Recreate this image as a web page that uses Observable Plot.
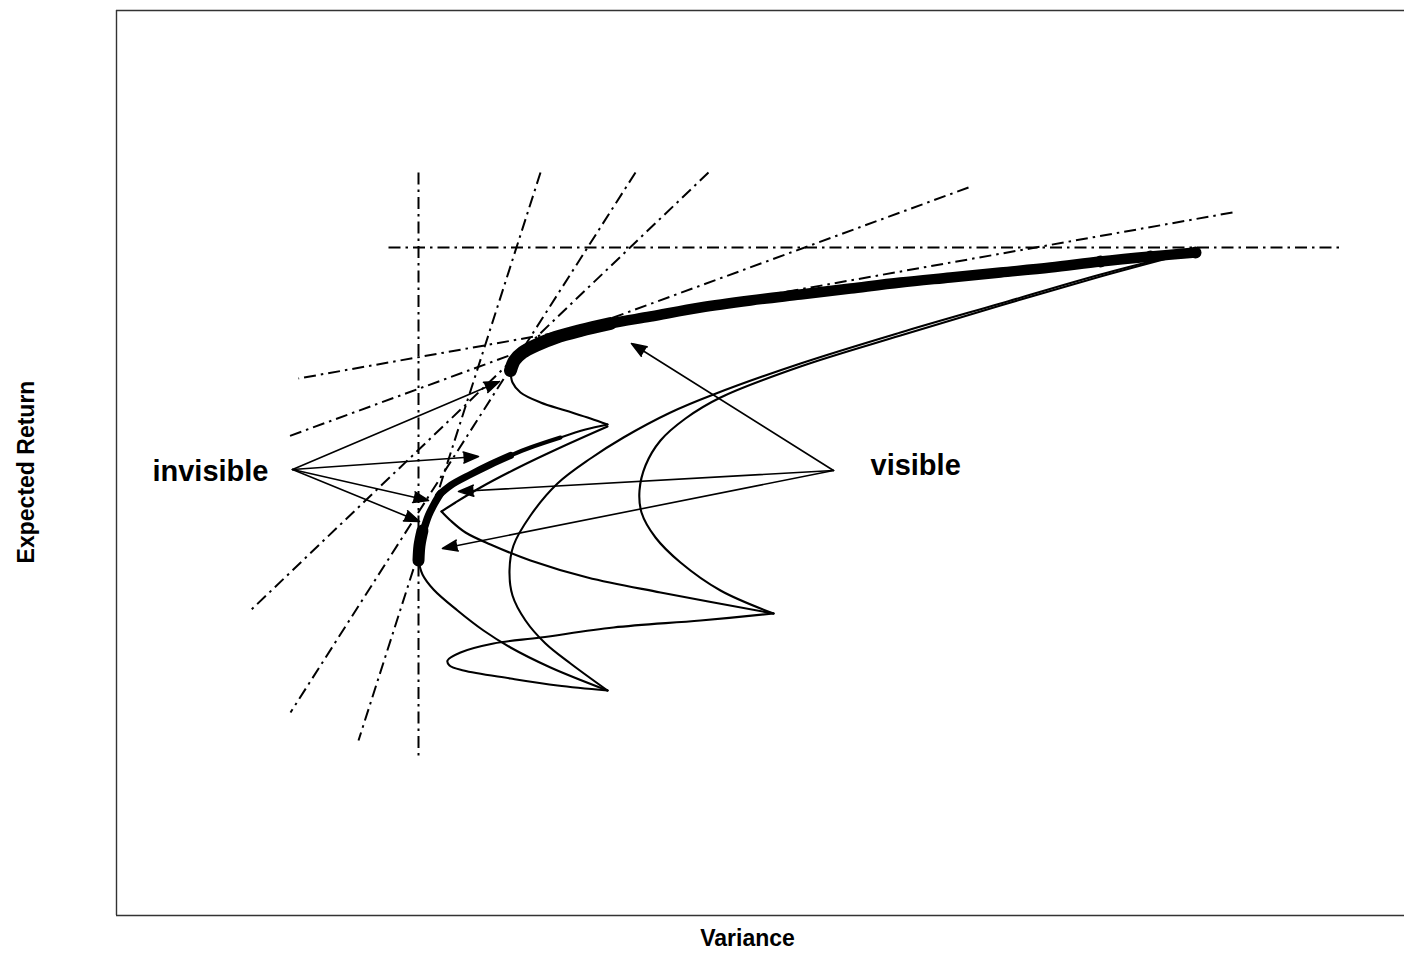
<!DOCTYPE html>
<html>
<head>
<meta charset="utf-8">
<script src="https://cdn.jsdelivr.net/npm/d3@7"></script>
<script src="https://cdn.jsdelivr.net/npm/@observablehq/plot@0.6"></script>
<style>
  html, body { margin: 0; padding: 0; background: #fff; }
  #chart { width: 1404px; height: 956px; }
</style>
</head>
<body>
<div id="chart"></div>
<script>
// ---- Axis extents (abstract variance / expected-return units) ----
const varianceDomain = [0, 128.8];
const returnDomain = [0, 90.5];

// ---- Upper frontier ----
const upperEfficientStart = [[39.4,54.5],[39.8,55.5],[40.6,56.3],[41.9,57.0],[43.9,57.8],[46.4,58.5],[49.4,59.2]];
const upperEfficient = [[39.4,54.5],[39.8,55.5],[40.6,56.3],[41.9,57.0],[43.9,57.8],[46.4,58.5],[49.4,59.2],[53.4,59.9],[58.4,60.8],[63.4,61.5],[68.4,62.1],[73.4,62.7],[78.4,63.3],[83.4,63.8],[88.4,64.3],[93.4,64.8],[98.4,65.4],[103.4,65.9],[107.9,66.3]];
const upperEfficientEnd = [[98.4,65.4],[103.4,65.9],[107.9,66.3]];
const upperInefficient = [[39.4,54.5],[39.6,53.3],[40.4,52.3],[42.4,51.3],[44.9,50.5],[47.4,49.7],[49.1,49.1]];

// ---- Middle frontier ----
const middleInefficient = [[49.1,49.1],[46.9,48.6],[44.4,47.8]];
const middleEfficientThin = [[44.4,47.8],[41.4,46.8],[39.4,46.0]];
const middleEfficientThick = [[39.4,46.0],[37.4,45.1],[35.4,44.1],[33.4,43.0],[32.2,42.0]];

// ---- Lower frontier ----
const lowerEfficient = [[30.2,35.7],[30.3,37.0],[30.7,38.5],[31.2,40.0],[31.8,41.2],[32.4,42.2]];
const lowerEfficientBase = [[30.2,35.5],[30.3,37.0],[30.6,38.5]];
const lowerInefficient = [[30.2,35.5],[30.6,34.1],[31.7,32.6],[34.1,30.5],[36.7,28.5],[39.4,26.8],[43.4,24.8],[49.1,22.5]];

// ---- Connecting portfolio paths ----
const pathOuterArc = [[105.4,65.9],[98.4,64.1],[88.4,61.2],[78.4,58.3],[68.4,55.2],[59.7,52.1],[55.4,50.3],[50.7,47.8],[47.4,45.7],[44.1,43.2],[41.4,40.0],[39.7,37.0],[39.3,34.5],[39.6,32.0],[40.9,29.5],[42.9,27.2],[45.4,25.2],[49.1,22.5]];
const pathInnerArc = [[106.2,66.0],[98.4,63.9],[88.4,61.0],[78.4,58.0],[68.4,54.9],[60.4,51.8],[56.9,49.7],[54.4,47.5],[52.9,45.0],[52.3,42.5],[52.5,40.3],[53.9,37.8],[56.4,35.3],[60.4,32.5],[65.7,30.2]];
const pathCuspDown = [[49.1,48.9],[44.4,46.8],[40.4,44.9],[36.4,42.8],[33.9,41.3],[32.5,40.4]];
const pathCuspOut = [[32.5,40.4],[33.4,39.5],[34.9,38.3],[37.4,37.1],[41.4,35.5],[47.1,33.8],[54.4,32.3],[65.7,30.2]];
const pathLoop = [[65.7,30.2],[58.4,29.5],[49.7,28.8],[42.4,27.8],[37.7,27.2],[34.4,26.3],[33.1,25.5],[33.3,25.0],[34.7,24.5],[39.4,23.7],[44.1,23.0],[49.1,22.5]];

// ---- Tangent (dash-dot) lines: [x1, y1, x2, y2] ----
const tangentLines = [
  [30.2, 74.3, 30.2, 16.0],
  [27.2, 66.8, 122.6, 66.8],
  [42.4, 74.3, 24.2, 17.5],
  [51.9, 74.3, 17.4, 20.3],
  [59.2, 74.3, 13.4, 30.5],
  [85.2, 72.8, 16.9, 47.8],
  [111.6, 70.3, 18.2, 53.7]
];

// ---- Callouts ----
const calloutNames = ["invisible", "visible"];
const calloutHubs = [[17.6, 44.6], [71.7, 44.5]];
const invisibleTargets = [[38.3, 53.4], [36.2, 45.9], [31.2, 41.5], [30.3, 39.4]];
const visibleTargets = [[51.5, 57.2], [34.2, 42.4], [32.6, 36.7]];

const xLabel = "Variance";
const yLabel = "Expected Return";

// ---- Build tables ----
const rows = (name, pts) => pts.map(([x, y]) => ({curve: name, x, y}));
const thinRows = [
  ...rows("upperInefficient", upperInefficient),
  ...rows("middleInefficient", middleInefficient),
  ...rows("lowerInefficient", lowerInefficient),
  ...rows("pathOuterArc", pathOuterArc),
  ...rows("pathInnerArc", pathInnerArc),
  ...rows("pathCuspDown", pathCuspDown),
  ...rows("pathCuspOut", pathCuspOut),
  ...rows("pathLoop", pathLoop)
];
const tangents = tangentLines.map(([x1, y1, x2, y2]) => ({x1, y1, x2, y2}));
const arrows = [
  ...invisibleTargets.map(([x2, y2]) => ({x1: calloutHubs[0][0], y1: calloutHubs[0][1], x2, y2})),
  ...visibleTargets.map(([x2, y2]) => ({x1: calloutHubs[1][0], y1: calloutHubs[1][1], x2, y2}))
];
const callouts = calloutNames.map((name, i) => ({name, x: calloutHubs[i][0], y: calloutHubs[i][1]}));

const font = "'Liberation Sans', Arial, Helvetica, sans-serif";
const px = d => d[0], py = d => d[1];

const chart = Plot.plot({
  width: 1404,
  height: 956,
  marginLeft: 116,
  marginRight: 0,
  marginTop: 10,
  marginBottom: 41,
  x: {domain: varianceDomain, axis: null},
  y: {domain: returnDomain, axis: null},
  style: {fontFamily: font, background: "#fff", color: "#000", overflow: "visible"},
  marks: [
    // frame (left, top, bottom)
    Plot.ruleX([varianceDomain[0]], {stroke: "#333", strokeWidth: 1.4}),
    Plot.ruleY(returnDomain, {stroke: "#333", strokeWidth: 1.4}),
    // tangent lines
    Plot.link(tangents, {x1: "x1", y1: "y1", x2: "x2", y2: "y2", stroke: "#000", strokeWidth: 2, strokeDasharray: "12,5,2.5,5"}),
    // thin curves
    Plot.line(thinRows, {x: "x", y: "y", z: "curve", curve: "catmull-rom", stroke: "#000", strokeWidth: 2.1, strokeLinejoin: "round", strokeLinecap: "round"}),
    // efficient (thick) segments
    Plot.line(upperEfficient, {x: px, y: py, curve: "catmull-rom", stroke: "#000", strokeWidth: 10.5, strokeLinecap: "round"}),
    Plot.line(upperEfficientStart, {x: px, y: py, curve: "catmull-rom", stroke: "#000", strokeWidth: 13, strokeLinecap: "round"}),
    Plot.dot(upperEfficientEnd, {x: px, y: py, r: 6, fill: "#000"}),
    Plot.line(middleEfficientThin, {x: px, y: py, curve: "catmull-rom", stroke: "#000", strokeWidth: 4, strokeLinecap: "round"}),
    Plot.line(middleEfficientThick, {x: px, y: py, curve: "catmull-rom", stroke: "#000", strokeWidth: 7, strokeLinecap: "round"}),
    Plot.line(lowerEfficient, {x: px, y: py, curve: "catmull-rom", stroke: "#000", strokeWidth: 7.5, strokeLinecap: "round"}),
    Plot.line(lowerEfficientBase, {x: px, y: py, curve: "catmull-rom", stroke: "#000", strokeWidth: 12, strokeLinecap: "round"}),
    // callout arrows
    Plot.arrow(arrows, {x1: "x1", y1: "y1", x2: "x2", y2: "y2", stroke: "#000", fill: "#000", strokeWidth: 1.6, headLength: 15, headAngle: 40}),
    // callout labels
    Plot.text(callouts.filter(d => d.name === "invisible"), {x: "x", y: "y", text: "name", textAnchor: "end", dx: -24, dy: 2, fontSize: 29, fontWeight: "bold", fill: "#000"}),
    Plot.text(callouts.filter(d => d.name === "visible"), {x: "x", y: "y", text: "name", textAnchor: "start", dx: 37, dy: -5, fontSize: 29, fontWeight: "bold", fill: "#000"}),
    // axis titles
    Plot.text([yLabel], {frameAnchor: "left", dx: -90, dy: 9, rotate: -90, textAnchor: "middle", lineAnchor: "middle", fontSize: 23, fontWeight: "bold", fill: "#000"}),
    Plot.text([xLabel], {frameAnchor: "bottom", dx: -13, dy: 23, textAnchor: "middle", lineAnchor: "middle", fontSize: 23, fontWeight: "bold", fill: "#000"})
  ]
});
document.getElementById("chart").appendChild(chart);
</script>
</body>
</html>
